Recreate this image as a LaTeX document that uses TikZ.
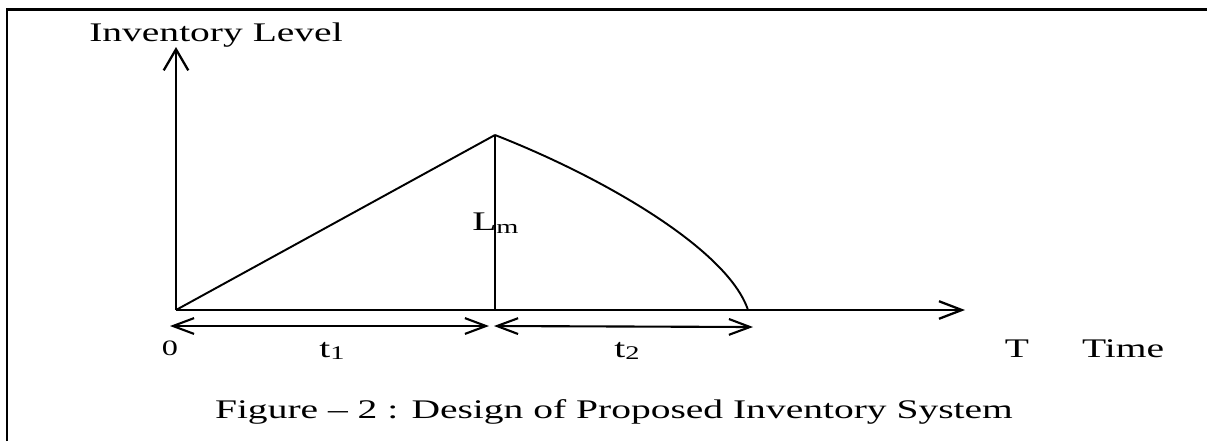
\documentclass[tikz,border=0pt]{standalone}
\usepackage{fontspec}
\setmainfont{Liberation Serif}[FakeStretch=1.47]
\usepackage{tikz}
\usetikzlibrary{arrows.meta}

\begin{document}
\begin{tikzpicture}[
    x=0.02cm, y=-0.02cm,
    every node/.style={inner sep=0pt, font=\fontsize{15.3}{17}\selectfont},
    axis/.style={line width=1.5pt},
    harr/.style={-{Straight Barb[length=13pt,width=10pt,line width=1.3pt]}, line width=1.3pt},
    varr/.style={-{Straight Barb[length=12pt,width=14pt,line width=1.3pt]}, line width=1.5pt},
    dim/.style={{Straight Barb[length=12pt,width=9pt,line width=1.2pt]}-{Straight Barb[length=12pt,width=9pt,line width=1.2pt]}, line width=1.2pt},
    lbl/.style={anchor=base, font=\fontsize{12.5}{14}\selectfont},
  ]
  \useasboundingbox (0,0) rectangle (1207,441);

  % frame (left and top only)
  \draw[line width=1.7pt] (7,441) -- (7,9) -- (1207,9);

  % key points
  \coordinate (o)    at (176,310);
  \coordinate (ytop) at (176,47);
  \coordinate (xend) at (965,310);
  \coordinate (peak) at (495,135);
  \coordinate (foot) at (495,310);
  \coordinate (zero) at (748,310);
  \coordinate (d1)   at (170,326);
  \coordinate (d2)   at (489,326);
  \coordinate (d3)   at (494,326);
  \coordinate (d4)   at (753,327);

  % axes
  \draw[varr] (o) -- (ytop);
  \draw[harr] (o) -- (xend);

  % inventory curve
  \draw[line width=1.1pt] (o) -- (peak);
  \draw[axis] (peak) -- (foot);
  \draw[line width=1.1pt] (peak) .. controls (605,178) and (728,250) .. (zero);

  % t1 and t2 spans
  \draw[dim] (d1) -- (d2);
  \draw[dim] (d3) -- (d4);

  % labels
  \node[anchor=base] (ylab) at (216,41) {Inventory Level};
  \node[anchor=base west] (lm) at (472,230) {L\raisebox{-0.3ex}{\fontsize{11}{12}\selectfont m}};
  \node[lbl] (origin) at (170,355) {0};
  \node[anchor=base] (t1) at (332,357) {t\raisebox{-0.2ex}{\fontsize{11}{12}\selectfont 1}};
  \node[anchor=base] (t2) at (627,357) {t\raisebox{-0.2ex}{\fontsize{11}{12}\selectfont 2}};
  \node[anchor=base] (tT) at (1017,357) {T};
  \node[anchor=base] (xlab) at (1123,357) {Time};
  \node[anchor=base] (cap) at (614,418) {Figure -- 2 : Design of Proposed Inventory System};
\end{tikzpicture}
\end{document}
